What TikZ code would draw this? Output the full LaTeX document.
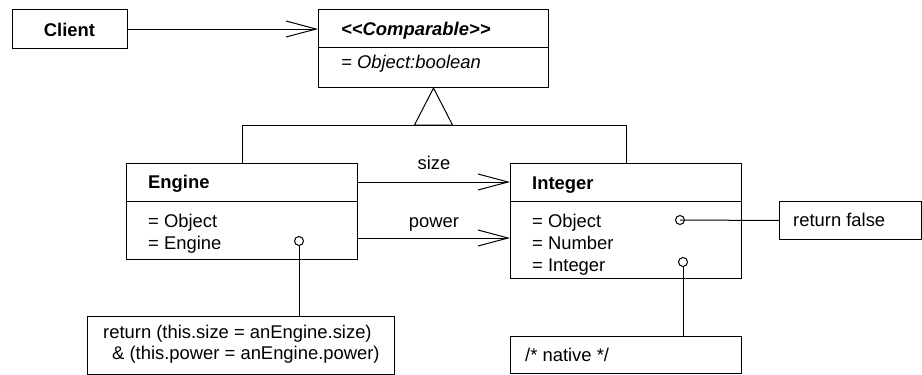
\documentclass[tikz,border=0pt]{standalone}
\usepackage{fontspec}
\setmainfont{Liberation Sans}
\usetikzlibrary{arrows.meta}

\tikzset{
  frame/.style={draw,line width=1pt,anchor=north west,inner sep=0pt},
  txt/.style={anchor=base west,inner sep=0pt,font=\fontsize{18.4}{22}\selectfont},
  link/.style={line width=1pt},
  nav/.style={link,-{Straight Barb[length=30pt,width=16pt]}},
  pin/.style={circle,draw,line width=1pt,inner sep=0pt,minimum size=9pt}
}

\begin{document}
\begin{tikzpicture}[x=1pt,y=-1pt]
	    \useasboundingbox (0,0) rectangle (922,375);
	    % classes
	    \node[frame,minimum width=115pt,minimum height=39pt] (client) at (12,9) {};
	    \node[txt,anchor=base] (clientname) at (69.5,36) {\textbf{Client}};
	    \node[frame,minimum width=230pt,minimum height=78pt] (comparable) at (318,9) {};
	    \draw[link] (comparable.west |- 0,47) -- (comparable.east |- 0,47);
	    \node[txt] (comparablename) at (341,35) {\textbf{\textit{<{}<Comparable>{}>}}};
	    \node[txt] (comparableop) at (341,68) {\textit{= Object:boolean}};
	    \node[frame,minimum width=231pt,minimum height=96pt] (engine) at (126,163) {};
	    \draw[link] (engine.west |- 0,201) -- (engine.east |- 0,201);
	    \node[txt] (enginename) at (148,188) {\textbf{Engine}};
	    \node[txt] (engineop1) at (148,227) {= Object};
	    \node[txt] (engineop2) at (148,249) {= Engine};
	    \node[frame,minimum width=231pt,minimum height=115pt] (integer) at (510,163) {};
	    \draw[link] (integer.west |- 0,201) -- (integer.east |- 0,201);
	    \node[txt] (integername) at (532,189) {\textbf{Integer}};
	    \node[txt] (integerop1) at (532,227) {= Object};
	    \node[txt] (integerop2) at (532,249) {= Number};
	    \node[txt] (integerop3) at (532,271) {= Integer};
	    % notes
	    \node[frame,minimum width=142pt,minimum height=38pt] (falsenote) at (779,201) {};
	    \node[txt] (falsetext) at (793,226) {return false};
	    \node[frame,minimum width=307pt,minimum height=58pt] (returnnote) at (87,316) {};
	    \node[txt] (returntext1) at (103,338) {return (this.size = anEngine.size)};
	    \node[txt] (returntext2) at (112,359) {\& (this.power = anEngine.power)};
	    \node[frame,minimum width=231pt,minimum height=37pt] (nativenote) at (510,336) {};
	    \node[txt] (nativetext) at (525,361) {/* native */};
	    % associations
	    \draw[nav] (client.east) -- (comparable.west |- client.east);
	    \draw[nav] (engine.east |- 0,182) -- (integer.west |- 0,182)
	        node[txt,anchor=base,midway,yshift=13pt] (sizelabel) {size};
	    \draw[nav] (engine.east |- 0,238) -- (integer.west |- 0,238)
	        node[txt,anchor=base,midway,yshift=11pt] (powerlabel) {power};
	    % generalization
	    \coordinate (fork) at ([yshift=-37pt]comparable.south);
	    \draw[link] (comparable.south) -- ([xshift=-19pt]fork) -- ([xshift=19pt]fork) -- cycle;
	    \draw[link] (engine.north) -- (engine.north |- fork) -- (integer.north |- fork) -- (integer.north);
	    % note links
	    \node[pin] (enginepin) at (299,241) {};
	    \node[pin] (objectpin) at (680,220) {};
	    \node[pin] (integerpin) at (683,262) {};
	    \draw[link] (enginepin.south) -- (enginepin |- returnnote.north);
	    \draw[link] (objectpin.center) -- (falsenote.west);
	    \draw[link] (integerpin.south) -- (integerpin |- nativenote.north);
	\end{tikzpicture}
\end{document}
